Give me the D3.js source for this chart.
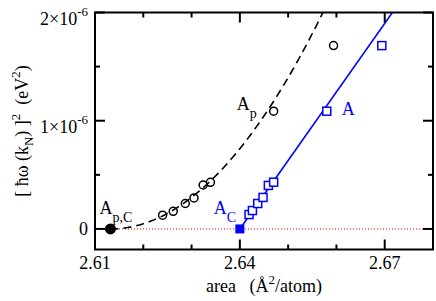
<!DOCTYPE html>
<html>
<head>
<meta charset="utf-8">
<script src="https://cdn.jsdelivr.net/npm/d3@7"></script>
<style>
  body { margin: 0; background: #fff; }
</style>
</head>
<body>
<div id="chart"></div>
<script>
// values in units of 1e-6 eV^2
const circleX = [2.6240, 2.6262, 2.6287, 2.6305, 2.6324, 2.6339, 2.6470, 2.6594];
const circleY = [0.127, 0.163, 0.235, 0.287, 0.406, 0.431, 1.088, 1.694];
const squareX = [2.6419, 2.6426, 2.6437, 2.6448, 2.6459, 2.6470, 2.6580, 2.6694];
const squareY = [0.133, 0.170, 0.235, 0.291, 0.402, 0.432, 1.088, 1.694];
const critical = [{ name: "Apc", x: 2.6132, y: 0 }, { name: "Ac", x: 2.64, y: 0 }];
// fits: quadratic from A_p,C, straight line from A_C
const quadCoef = 1033;
const lineSlope = 63.3;
const xTicks = [2.61, 2.64, 2.67];
const xMinor = [2.62, 2.63, 2.65, 2.66];
const yTicks = [0, 1, 2];
const yMinor = [0.5, 1.5];

const width = 436, height = 301;
const mLeft = 95, mRight = 433, mTop = 12.5, mBottom = 249.5;

const svg = d3.select("#chart").append("svg")
    .attr("width", width)
    .attr("height", height)
    .attr("font-family", "'Liberation Serif', 'DejaVu Serif', serif");

const x = d3.scaleLinear().domain([2.61, 2.68]).range([mLeft, mRight]);
const y = d3.scaleLinear().domain([-0.19, 2]).range([mBottom, mTop]);

svg.append("clipPath").attr("id", "clip")
    .append("rect")
    .attr("x", mLeft).attr("y", mTop)
    .attr("width", mRight - mLeft).attr("height", mBottom - mTop);

const plot = svg.append("g").attr("clip-path", "url(#clip)");

// zero line
plot.append("line")
    .attr("x1", mLeft).attr("x2", mRight)
    .attr("y1", y(0)).attr("y2", y(0))
    .attr("stroke", "#ff0000")
    .attr("stroke-width", 1)
    .attr("stroke-dasharray", "1,2");

// quadratic fit curve
const apc = critical[0];
const curve = d3.range(apc.x, 2.68, 0.0005).map(v => [v, quadCoef * (v - apc.x) * (v - apc.x)]);
plot.append("path")
    .datum(curve)
    .attr("fill", "none")
    .attr("stroke", "#000")
    .attr("stroke-width", 1.6)
    .attr("stroke-dasharray", "8,5")
    .attr("d", d3.line().x(d => x(d[0])).y(d => y(d[1])));

// linear fit
const ac = critical[1];
plot.append("line")
    .attr("x1", x(ac.x)).attr("y1", y(0))
    .attr("x2", x(ac.x + 2.2 / lineSlope)).attr("y2", y(2.2))
    .attr("stroke", "#0000ff")
    .attr("stroke-width", 1.6);

// open circles
plot.selectAll(".circ")
    .data(circleX)
    .enter()
    .append("circle")
    .attr("cx", d => x(d))
    .attr("cy", (d, i) => y(circleY[i]))
    .attr("r", 4)
    .attr("fill", "none")
    .attr("stroke", "#000")
    .attr("stroke-width", 1.5);

// open squares
plot.selectAll(".sq")
    .data(squareX)
    .enter()
    .append("rect")
    .attr("x", d => x(d) - 4)
    .attr("y", (d, i) => y(squareY[i]) - 4)
    .attr("width", 8)
    .attr("height", 8)
    .attr("fill", "#fff")
    .attr("stroke", "#0000ff")
    .attr("stroke-width", 1.5);

// critical points
svg.append("circle")
    .attr("cx", x(apc.x)).attr("cy", y(apc.y))
    .attr("r", 5.5).attr("fill", "#000");
svg.append("rect")
    .attr("x", x(ac.x) - 4.5).attr("y", y(ac.y) - 4.5)
    .attr("width", 9).attr("height", 9)
    .attr("fill", "#0000ff");

// frame
svg.append("rect")
    .attr("x", mLeft).attr("y", mTop)
    .attr("width", mRight - mLeft).attr("height", mBottom - mTop)
    .attr("fill", "none")
    .attr("stroke", "#000")
    .attr("stroke-width", 2);

// ticks
function xTick(v, len) {
    svg.append("line").attr("x1", x(v)).attr("x2", x(v))
        .attr("y1", mBottom).attr("y2", mBottom - len)
        .attr("stroke", "#000").attr("stroke-width", 2);
    svg.append("line").attr("x1", x(v)).attr("x2", x(v))
        .attr("y1", mTop).attr("y2", mTop + len)
        .attr("stroke", "#000").attr("stroke-width", 2);
}
function yTick(v, len) {
    svg.append("line").attr("y1", y(v)).attr("y2", y(v))
        .attr("x1", mLeft).attr("x2", mLeft + len)
        .attr("stroke", "#000").attr("stroke-width", 2);
    svg.append("line").attr("y1", y(v)).attr("y2", y(v))
        .attr("x1", mRight).attr("x2", mRight - len)
        .attr("stroke", "#000").attr("stroke-width", 2);
}
xTicks.forEach(v => xTick(v, 10));
xMinor.forEach(v => xTick(v, 5));
yTicks.forEach(v => yTick(v, 10));
yMinor.forEach(v => yTick(v, 5));

// tick labels
svg.selectAll(".xl")
    .data(xTicks)
    .enter()
    .append("text")
    .attr("x", d => x(d))
    .attr("y", mBottom + 19)
    .attr("text-anchor", "middle")
    .attr("font-size", 18)
    .text(d => d3.format(".2f")(d));

yTicks.forEach(v => {
    const t = svg.append("text")
        .attr("x", mLeft - 7)
        .attr("text-anchor", "end")
        .attr("font-size", 18);
    if (v === 0) {
        t.attr("y", y(v) + 6).text("0");
    } else {
        t.attr("y", y(v) + 12);
        t.append("tspan").text(v + "\u00d710");
        t.append("tspan").attr("dy", -9).attr("font-size", 13).text("-6");
    }
});

// axis titles
const xt = svg.append("text")
    .attr("x", (mLeft + mRight) / 2)
    .attr("y", 292)
    .attr("text-anchor", "middle")
    .attr("font-size", 18)
    .attr("xml:space", "preserve");
xt.append("tspan").text("area   (\u00c5");
xt.append("tspan").attr("dy", -8).attr("font-size", 13).text("2");
xt.append("tspan").attr("dy", 8).text("/atom)");

const yt = svg.append("text")
    .attr("transform", `translate(28,${(mTop + mBottom) / 2}) rotate(-90)`)
    .attr("text-anchor", "middle")
    .attr("font-size", 18)
    .attr("xml:space", "preserve");
yt.append("tspan").text("[ \u0127\u03c9 (k");
yt.append("tspan").attr("dy", 5).attr("font-size", 13).text("N");
yt.append("tspan").attr("dy", -5).text(") ]");
yt.append("tspan").attr("dy", -8).attr("font-size", 13).text("2");
yt.append("tspan").attr("dy", 8).text("  (eV");
yt.append("tspan").attr("dy", -8).attr("font-size", 13).text("2");
yt.append("tspan").attr("dy", 8).text(")");

// point labels
function label(px, py, main, sub, color) {
    const t = svg.append("text")
        .attr("x", px).attr("y", py)
        .attr("fill", color)
        .attr("font-size", 18);
    t.append("tspan").text(main);
    t.append("tspan").attr("dy", 8).attr("font-size", 14).text(sub);
}
label(x(apc.x) - 11, y(apc.y) - 15, "A", "p,C", "#000");
label(x(ac.x) - 26, y(ac.y) - 15, "A", "C", "#0000ff");
label(x(circleX[6]) - 37, y(circleY[6]) - 1, "A", "p", "#000");
label(x(squareX[6]) + 15, y(squareY[6]) + 4, "A", "", "#0000ff");
</script>
</body>
</html>
